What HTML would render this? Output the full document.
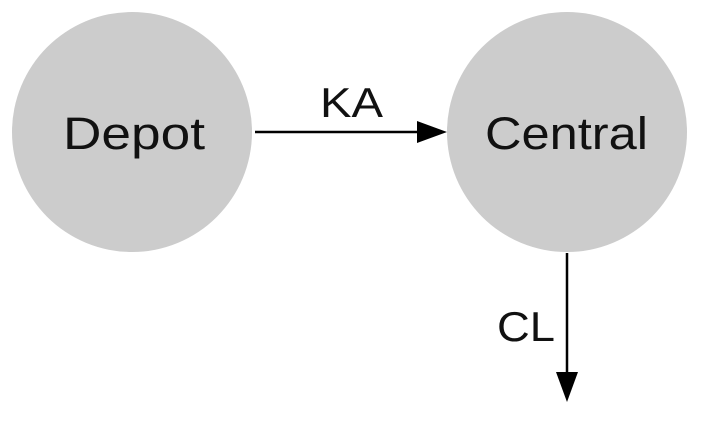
<!DOCTYPE html>
<html><head><style>body{margin:0;background:#fff}</style></head><body>
<svg width="701" height="425" xmlns="http://www.w3.org/2000/svg" font-family="Liberation Sans, sans-serif">
<rect width="701" height="425" fill="#fff"/>
<circle cx="132" cy="132" r="120" fill="#cccccc"/>
<circle cx="567" cy="132" r="120" fill="#cccccc"/>
<text x="63" y="149" font-size="45" textLength="142" lengthAdjust="spacingAndGlyphs" fill="#111">Depot</text>
<text x="485" y="149" font-size="45" textLength="163" lengthAdjust="spacingAndGlyphs" fill="#111">Central</text>
<line x1="255" y1="132" x2="420" y2="132" stroke="#000" stroke-width="2.5"/>
<polygon points="447,132 417,121 417,143" fill="#000"/>
<text x="320" y="117" font-size="42" textLength="63" lengthAdjust="spacingAndGlyphs" fill="#111">KA</text>
<line x1="567" y1="253" x2="567" y2="375" stroke="#000" stroke-width="2.5"/>
<polygon points="567,402 556,372 578,372" fill="#000"/>
<text x="497" y="341" font-size="42" textLength="58" lengthAdjust="spacingAndGlyphs" fill="#111">CL</text>
</svg>
</body></html>
